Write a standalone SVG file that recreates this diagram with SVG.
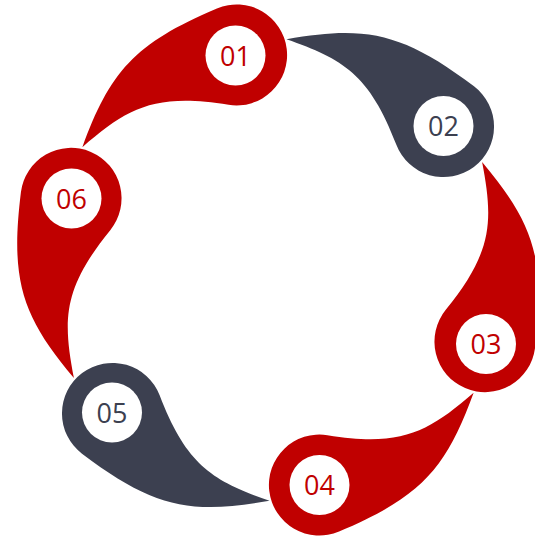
<svg xmlns="http://www.w3.org/2000/svg" xmlns:xlink="http://www.w3.org/1999/xlink" width="535" height="536" viewBox="0 0 535 536">
<style>
.red{fill:#C00000}
.dark{fill:#3C4050}
.hole{fill:#FFFFFF}
.num{font-family:"Open Sans","Noto Sans","DejaVu Sans",sans-serif;font-size:27px;text-anchor:middle}
.tred{fill:#C00000}
.tdark{fill:#3C4050}
</style>
<defs>
<path id="drop" d="M157.5,-168.9 C226.1,-127.8 249.7,-98.5 268.4,-10.5 A50.5,50.5 0 1 1 171.55,-17.27 C197.2,-87.8 187.5,-116.9 157.5,-168.9 Z"/>
</defs>
<g id="connectors"></g>
<g id="node01">
<use xlink:href="#drop" class="red" transform="translate(278 270) rotate(-100.9)"/>
<circle class="hole" cx="235.5" cy="55.5" r="30"/>
<text class="num tred" x="235.5" y="65.5">01</text>
</g>
<g id="node02">
<use xlink:href="#drop" class="dark" transform="translate(278 270) rotate(-40.9)"/>
<circle class="hole" cx="443.5" cy="126" r="30"/>
<text class="num tdark" x="443.5" y="136">02</text>
</g>
<g id="node03">
<use xlink:href="#drop" class="red" transform="translate(278 270) rotate(19.1)"/>
<circle class="hole" cx="486" cy="344" r="30"/>
<text class="num tred" x="486" y="354">03</text>
</g>
<g id="node04">
<use xlink:href="#drop" class="red" transform="translate(278 270) rotate(79.1)"/>
<circle class="hole" cx="319.5" cy="485" r="30"/>
<text class="num tred" x="319.5" y="495">04</text>
</g>
<g id="node05">
<use xlink:href="#drop" class="dark" transform="translate(278 270) rotate(139.1)"/>
<circle class="hole" cx="112" cy="412.5" r="30"/>
<text class="num tdark" x="112" y="422.5">05</text>
</g>
<g id="node06">
<use xlink:href="#drop" class="red" transform="translate(278 270) rotate(199.1)"/>
<circle class="hole" cx="71.5" cy="198.5" r="30"/>
<text class="num tred" x="71.5" y="208.5">06</text>
</g>
</svg>
